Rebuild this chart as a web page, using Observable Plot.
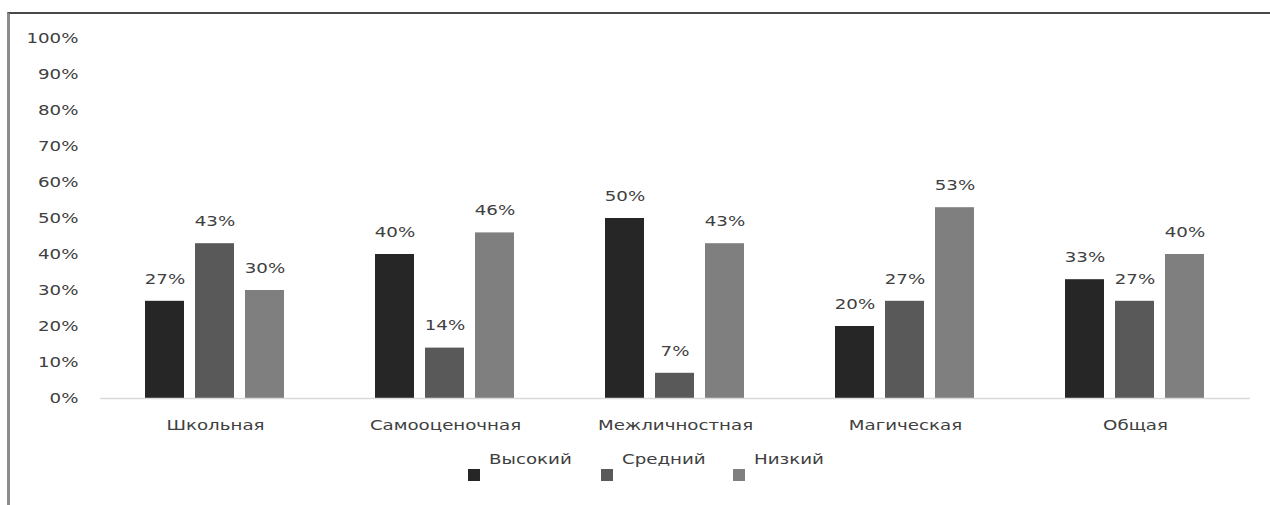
<!DOCTYPE html>
<html>
<head>
<meta charset="utf-8">
<script src="https://cdn.jsdelivr.net/npm/d3@7"></script>
<script src="https://cdn.jsdelivr.net/npm/@observablehq/plot@0.6"></script>
<style>
  body { margin: 0; background: #fff; }
  #frame { position: relative; width: 1270px; height: 505px; overflow: hidden; background: #fff; font-family: "DejaVu Sans", Verdana, sans-serif; }
  #border { position: absolute; left: 7px; top: 12px; right: -5px; bottom: -5px; border-top: 2px solid #4a4a4a; border-left: 3px solid #8c8c8c; pointer-events: none; }
  #legend { position: absolute; left: 468px; top: 440px; display: flex; }
  .item { width: 132.5px; display: flex; align-items: flex-start; }
  .swatch { width: 12px; height: 12px; margin-top: 29px; flex: none; }
  .label { margin-top: 11px; margin-left: 9px; font-size: 13.5px; color: #404040; display: inline-block; transform: scaleX(1.35); transform-origin: 0 50%; white-space: nowrap; }
</style>
</head>
<body>
<div id="frame">
  <div id="chart"></div>
  <div id="legend"></div>
  <div id="border"></div>
</div>
<script>
// Anxiety types (groups) and levels (series)
const categories = ["Школьная", "Самооценочная", "Межличностная", "Магическая", "Общая"];
const levels = ["Высокий", "Средний", "Низкий"];
const highValues = [27, 40, 50, 20, 33];
const midValues = [43, 14, 7, 27, 27];
const lowValues = [30, 46, 43, 53, 40];
const yTicks = [0, 10, 20, 30, 40, 50, 60, 70, 80, 90, 100];

const palette = ["#262626", "#595959", "#7f7f7f"];
const seriesValues = [highValues, midValues, lowValues];

const rows = [];
categories.forEach((group, i) => {
  levels.forEach((level, j) => {
    rows.push({group, level, value: seriesValues[j][i]});
  });
});

const chart = Plot.plot({
  width: 1270,
  height: 440,
  marginLeft: 100,
  marginRight: 20,
  marginTop: 38,
  marginBottom: 42,
  style: {fontFamily: "'DejaVu Sans', Verdana, sans-serif", fontSize: "13.5px", color: "#404040", background: "transparent"},
  fx: {domain: categories, padding: 0, label: null, tickSize: 0, tickPadding: 22},
  x: {domain: levels, axis: null, paddingInner: 0.216, paddingOuter: 0.863},
  y: {domain: [0, 100], ticks: yTicks, tickFormat: d => d + "%", tickSize: 0, tickPadding: 22, label: null},
  color: {domain: levels, range: palette},
  marks: [
    Plot.barY(rows, {fx: "group", x: "level", y: "value", fill: "level"}),
    Plot.ruleY([0], {stroke: "#d9d9d9", strokeWidth: 1.5}),
    Plot.text(rows, {fx: "group", x: "level", y: "value", text: d => d.value + "%", dy: -22, fill: "#404040"})
  ]
});
document.getElementById("chart").appendChild(chart);

// Widen glyphs horizontally around each text's anchor point
const stretch = 1.35;
chart.querySelectorAll("text").forEach(t => {
  const x = +(t.getAttribute("x") || 0);
  const tr = t.getAttribute("transform") || "";
  t.setAttribute("transform", `${tr} translate(${x},0) scale(${stretch},1) translate(${-x},0)`);
});

// Legend
const legend = d3.select("#legend");
levels.forEach((level, j) => {
  const item = legend.append("div").attr("class", "item");
  item.append("div").attr("class", "swatch").style("background", palette[j]);
  item.append("span").attr("class", "label").text(level);
});
</script>
</body>
</html>
